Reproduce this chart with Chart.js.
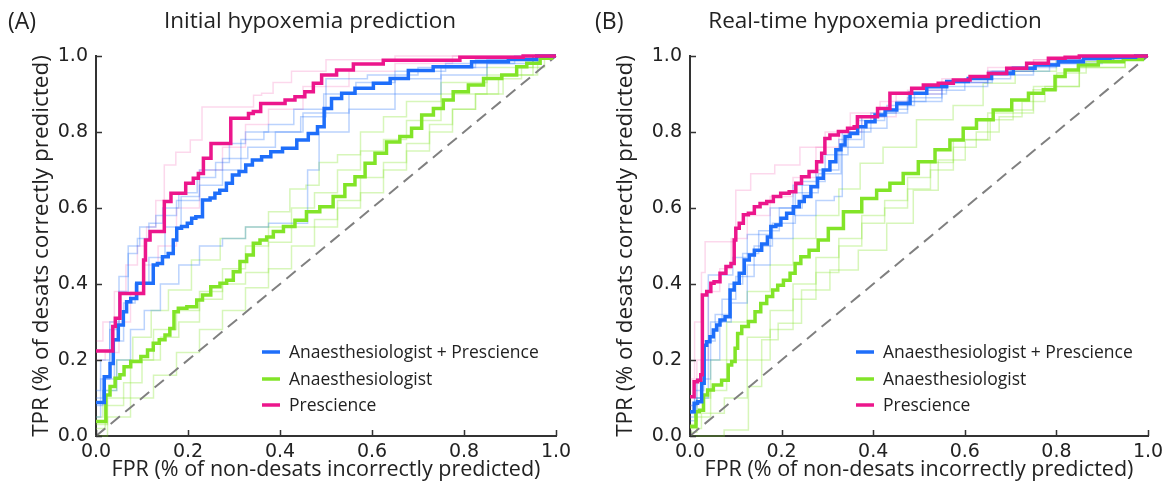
<!DOCTYPE html>
<html><head><meta charset="utf-8">
<script src="https://cdn.jsdelivr.net/npm/chart.js@4.4.1/dist/chart.umd.min.js"></script>
<style>
body{margin:0;background:#fff;width:1175px;height:491px;overflow:hidden;position:relative}
#wa{position:absolute;left:0;top:0;width:620px;height:491px}
#wb{position:absolute;left:575px;top:0;width:600px;height:491px}
</style></head><body>
<div id="wa"><canvas id="ca"></canvas></div>
<div id="wb"><canvas id="cb"></canvas></div>
<script>
// ---------- data (FPR, TPR) ----------
const seriesNames = ['Anaesthesiologist + Prescience', 'Anaesthesiologist', 'Prescience'];
const tickValues = [0, 0.2, 0.4, 0.6, 0.8, 1.0];
const diagonal = [[0,0],[1,1]];

// Panel A: Initial hypoxemia prediction
const aPrescience = [[0,0.224],[0.034,0.224],[0.039,0.288],[0.045,0.31],[0.059,0.375],[0.102,0.375],[0.105,0.463],[0.11,0.516],[0.125,0.538],[0.143,0.538],[0.154,0.617],[0.172,0.639],[0.186,0.639],[0.204,0.665],[0.219,0.678],[0.226,0.691],[0.241,0.731],[0.259,0.77],[0.288,0.77],[0.298,0.836],[0.328,0.836],[0.335,0.849],[0.349,0.854],[0.367,0.875],[0.4,0.875],[0.422,0.884],[0.443,0.893],[0.465,0.906],[0.48,0.928],[0.501,0.95],[0.545,0.963],[0.574,0.979],[0.675,0.989],[0.907,0.997],[0.95,1],[1,1]];
const aBoth = [[0,0.088],[0.016,0.088],[0.02,0.156],[0.027,0.156],[0.034,0.191],[0.041,0.253],[0.056,0.292],[0.063,0.327],[0.07,0.353],[0.081,0.362],[0.096,0.402],[0.121,0.402],[0.128,0.45],[0.139,0.454],[0.15,0.472],[0.164,0.48],[0.172,0.516],[0.179,0.547],[0.193,0.551],[0.204,0.56],[0.212,0.573],[0.222,0.577],[0.241,0.621],[0.255,0.626],[0.262,0.639],[0.276,0.647],[0.291,0.665],[0.302,0.687],[0.32,0.696],[0.331,0.713],[0.349,0.726],[0.371,0.735],[0.389,0.748],[0.422,0.757],[0.451,0.779],[0.472,0.796],[0.491,0.814],[0.501,0.862],[0.523,0.888],[0.545,0.902],[0.581,0.915],[0.625,0.928],[0.654,0.941],[0.704,0.962],[0.762,0.972],[0.871,0.985],[0.922,0.991],[0.994,1],[1,1]];
const aAnaes = [[0,0.038],[0.02,0.038],[0.023,0.108],[0.038,0.13],[0.045,0.152],[0.059,0.161],[0.063,0.182],[0.088,0.196],[0.107,0.209],[0.117,0.226],[0.132,0.244],[0.143,0.253],[0.157,0.266],[0.164,0.283],[0.175,0.327],[0.183,0.336],[0.212,0.34],[0.226,0.358],[0.237,0.371],[0.262,0.393],[0.277,0.402],[0.291,0.41],[0.306,0.432],[0.32,0.459],[0.335,0.476],[0.349,0.507],[0.364,0.516],[0.378,0.524],[0.393,0.538],[0.422,0.551],[0.443,0.568],[0.472,0.59],[0.501,0.603],[0.53,0.63],[0.552,0.661],[0.574,0.682],[0.596,0.718],[0.617,0.744],[0.646,0.774],[0.675,0.788],[0.697,0.81],[0.719,0.845],[0.748,0.862],[0.762,0.884],[0.791,0.906],[0.828,0.924],[0.857,0.941],[0.907,0.95],[0.922,0.972],[0.951,0.981],[0.98,0.994],[1,1]];
// individual (faint) curves, panel A
const aPrescienceInd1 = [[0,0.25],[0.03,0.3],[0.05,0.38],[0.08,0.45],[0.1,0.5],[0.12,0.55],[0.14,0.62],[0.157,0.713],[0.19,0.747],[0.22,0.779],[0.241,0.866],[0.335,0.866],[0.35,0.897],[0.37,0.902],[0.4,0.93],[0.45,0.96],[0.55,0.99],[0.75,1],[1,1]];
const aPrescienceInd2 = [[0,0.2],[0.04,0.22],[0.06,0.3],[0.09,0.38],[0.12,0.45],[0.15,0.5],[0.2,0.6],[0.25,0.7],[0.3,0.76],[0.35,0.82],[0.4,0.86],[0.5,0.92],[0.6,0.96],[0.7,0.98],[0.85,1],[1,1]];
const aBothInd1 = [[0,0.12],[0.02,0.2],[0.04,0.3],[0.06,0.42],[0.08,0.48],[0.1,0.52],[0.13,0.56],[0.16,0.6],[0.2,0.64],[0.24,0.68],[0.28,0.72],[0.3,0.77],[0.35,0.8],[0.4,0.82],[0.46,0.86],[0.53,0.9],[0.6,0.93],[0.7,0.96],[0.82,0.98],[1,1]];
const aBothInd2 = [[0,0.1],[0.03,0.15],[0.05,0.25],[0.07,0.35],[0.1,0.4],[0.13,0.47],[0.17,0.55],[0.2,0.63],[0.25,0.7],[0.3,0.73],[0.36,0.76],[0.42,0.8],[0.47,0.84],[0.53,0.94],[0.65,0.95],[0.75,0.97],[0.9,0.99],[1,1]];
const aBothInd3 = [[0,0.08],[0.03,0.12],[0.06,0.2],[0.09,0.28],[0.12,0.33],[0.16,0.4],[0.2,0.45],[0.25,0.5],[0.3,0.52],[0.35,0.55],[0.4,0.56],[0.45,0.56],[0.47,0.7],[0.5,0.8],[0.6,0.86],[0.7,0.9],[0.8,0.95],[0.9,0.98],[1,1]];
const aBothInd4 = [[0,0.05],[0.02,0.15],[0.04,0.28],[0.06,0.38],[0.08,0.5],[0.11,0.55],[0.15,0.58],[0.2,0.62],[0.25,0.66],[0.3,0.7],[0.33,0.78],[0.4,0.8],[0.5,0.85],[0.6,0.9],[0.7,0.94],[0.8,0.97],[0.9,0.99],[1,1]];
const aAnaesInd1 = [[0,0.05],[0.03,0.12],[0.06,0.2],[0.1,0.26],[0.14,0.33],[0.175,0.384],[0.24,0.463],[0.3,0.52],[0.35,0.55],[0.4,0.59],[0.443,0.65],[0.47,0.66],[0.5,0.72],[0.55,0.74],[0.6,0.8],[0.65,0.84],[0.7,0.88],[0.8,0.93],[0.9,0.97],[1,1]];
const aAnaesInd2 = [[0,0.02],[0.04,0.08],[0.08,0.14],[0.12,0.2],[0.16,0.26],[0.2,0.3],[0.25,0.36],[0.3,0.4],[0.35,0.43],[0.4,0.51],[0.45,0.55],[0.5,0.57],[0.55,0.62],[0.6,0.68],[0.65,0.72],[0.7,0.77],[0.75,0.82],[0.8,0.86],[0.85,0.9],[0.92,0.95],[1,1]];
const aAnaesInd3 = [[0,0],[0.05,0.05],[0.1,0.1],[0.15,0.16],[0.2,0.22],[0.25,0.28],[0.3,0.33],[0.35,0.39],[0.4,0.44],[0.45,0.5],[0.5,0.55],[0.55,0.6],[0.6,0.64],[0.65,0.7],[0.7,0.75],[0.75,0.8],[0.8,0.86],[0.85,0.9],[0.9,0.94],[0.95,0.97],[1,1]];
const aAnaesInd4 = [[0,0.03],[0.05,0.1],[0.1,0.2],[0.15,0.28],[0.2,0.33],[0.25,0.38],[0.3,0.44],[0.35,0.5],[0.4,0.55],[0.45,0.6],[0.5,0.64],[0.55,0.7],[0.6,0.75],[0.65,0.78],[0.7,0.83],[0.8,0.9],[0.9,0.95],[1,1]];

// Panel B: Real-time hypoxemia prediction
const bPrescience = [[0,0.103],[0.007,0.103],[0.011,0.143],[0.022,0.147],[0.025,0.161],[0.029,0.371],[0.044,0.38],[0.047,0.402],[0.058,0.406],[0.073,0.428],[0.084,0.446],[0.095,0.454],[0.098,0.516],[0.102,0.547],[0.113,0.56],[0.12,0.582],[0.135,0.586],[0.146,0.603],[0.16,0.612],[0.175,0.617],[0.189,0.63],[0.207,0.639],[0.226,0.643],[0.236,0.665],[0.251,0.682],[0.269,0.696],[0.284,0.722],[0.291,0.744],[0.298,0.783],[0.313,0.792],[0.335,0.801],[0.353,0.81],[0.364,0.814],[0.367,0.84],[0.397,0.84],[0.422,0.862],[0.451,0.902],[0.473,0.902],[0.495,0.915],[0.524,0.924],[0.56,0.928],[0.59,0.937],[0.633,0.946],[0.67,0.954],[0.713,0.968],[0.757,0.981],[0.808,0.994],[0.83,0.997],[0.87,1],[1,1]];
const bBoth = [[0,0.064],[0.007,0.064],[0.011,0.086],[0.022,0.09],[0.029,0.139],[0.033,0.239],[0.04,0.248],[0.047,0.261],[0.055,0.279],[0.062,0.292],[0.069,0.305],[0.084,0.314],[0.091,0.384],[0.102,0.402],[0.113,0.428],[0.124,0.463],[0.135,0.476],[0.146,0.489],[0.167,0.505],[0.171,0.524],[0.182,0.551],[0.193,0.555],[0.204,0.573],[0.218,0.586],[0.233,0.603],[0.244,0.617],[0.255,0.63],[0.273,0.656],[0.284,0.678],[0.298,0.7],[0.313,0.722],[0.324,0.753],[0.335,0.766],[0.342,0.788],[0.357,0.796],[0.375,0.814],[0.393,0.827],[0.415,0.845],[0.437,0.858],[0.466,0.875],[0.495,0.902],[0.539,0.919],[0.582,0.933],[0.633,0.941],[0.684,0.954],[0.728,0.968],[0.779,0.976],[0.83,0.985],[0.888,0.994],[0.946,0.997],[1,1]];
const bAnaes = [[0,0.025],[0.011,0.025],[0.015,0.064],[0.026,0.068],[0.033,0.108],[0.044,0.121],[0.058,0.134],[0.08,0.147],[0.087,0.187],[0.095,0.196],[0.102,0.231],[0.106,0.27],[0.12,0.288],[0.135,0.301],[0.149,0.327],[0.16,0.349],[0.175,0.367],[0.186,0.384],[0.197,0.397],[0.211,0.41],[0.226,0.428],[0.233,0.454],[0.251,0.472],[0.269,0.489],[0.291,0.516],[0.313,0.546],[0.357,0.59],[0.393,0.625],[0.422,0.647],[0.451,0.665],[0.48,0.691],[0.517,0.722],[0.553,0.753],[0.582,0.779],[0.611,0.81],[0.64,0.832],[0.684,0.858],[0.721,0.884],[0.757,0.902],[0.786,0.911],[0.808,0.946],[0.83,0.963],[0.866,0.976],[0.917,0.985],[0.975,0.991],[1,1]];
const bPrescienceInd1 = [[0,0.15],[0.02,0.3],[0.03,0.43],[0.036,0.511],[0.095,0.511],[0.105,0.647],[0.16,0.69],[0.21,0.713],[0.27,0.76],[0.32,0.8],[0.38,0.85],[0.45,0.88],[0.5,0.91],[0.6,0.94],[0.7,0.97],[0.8,0.99],[0.9,1],[1,1]];
const bPrescienceInd2 = [[0,0.08],[0.03,0.2],[0.05,0.38],[0.08,0.44],[0.1,0.52],[0.15,0.58],[0.2,0.63],[0.25,0.68],[0.3,0.76],[0.35,0.8],[0.4,0.84],[0.5,0.9],[0.6,0.93],[0.7,0.96],[0.8,0.99],[1,1]];
const bBothInd1 = [[0,0.05],[0.02,0.1],[0.03,0.2],[0.05,0.424],[0.087,0.424],[0.1,0.47],[0.15,0.53],[0.2,0.6],[0.25,0.66],[0.3,0.7],[0.35,0.78],[0.4,0.84],[0.45,0.86],[0.5,0.89],[0.6,0.92],[0.7,0.95],[0.8,0.98],[0.9,0.99],[1,1]];
const bBothInd2 = [[0,0.04],[0.03,0.1],[0.05,0.2],[0.08,0.3],[0.1,0.35],[0.15,0.45],[0.2,0.52],[0.25,0.58],[0.3,0.62],[0.33,0.63],[0.335,0.8],[0.4,0.83],[0.45,0.85],[0.5,0.88],[0.6,0.93],[0.7,0.96],[0.8,0.98],[1,1]];
const bBothInd3 = [[0,0.06],[0.02,0.12],[0.04,0.25],[0.07,0.32],[0.1,0.4],[0.13,0.48],[0.17,0.54],[0.22,0.6],[0.27,0.67],[0.32,0.74],[0.37,0.8],[0.42,0.85],[0.48,0.88],[0.55,0.91],[0.65,0.94],[0.75,0.97],[0.85,0.99],[1,1]];
const bBothInd4 = [[0,0.08],[0.03,0.15],[0.06,0.3],[0.08,0.36],[0.12,0.42],[0.16,0.5],[0.2,0.56],[0.26,0.64],[0.3,0.69],[0.36,0.76],[0.4,0.81],[0.46,0.87],[0.52,0.9],[0.6,0.93],[0.72,0.96],[0.85,0.99],[1,1]];
const bAnaesInd1 = [[0,0],[0.04,0],[0.109,0.016],[0.146,0.13],[0.167,0.253],[0.218,0.297],[0.269,0.384],[0.342,0.437],[0.393,0.489],[0.466,0.56],[0.509,0.647],[0.575,0.726],[0.627,0.779],[0.684,0.832],[0.727,0.858],[0.771,0.911],[0.83,0.955],[0.9,0.985],[1,1]];
const bAnaesInd2 = [[0,0.01],[0.03,0.05],[0.06,0.12],[0.1,0.2],[0.15,0.26],[0.2,0.33],[0.25,0.4],[0.3,0.47],[0.35,0.52],[0.4,0.56],[0.45,0.6],[0.5,0.65],[0.55,0.7],[0.6,0.76],[0.65,0.8],[0.7,0.84],[0.75,0.88],[0.8,0.92],[0.9,0.97],[1,1]];
const bAnaesInd3 = [[0,0.03],[0.03,0.1],[0.06,0.2],[0.1,0.3],[0.15,0.38],[0.2,0.45],[0.25,0.52],[0.3,0.58],[0.35,0.65],[0.393,0.718],[0.45,0.76],[0.539,0.832],[0.61,0.87],[0.67,0.928],[0.75,0.96],[0.85,0.985],[1,1]];
const bAnaesInd4 = [[0,0.02],[0.05,0.06],[0.1,0.1],[0.15,0.2],[0.2,0.28],[0.25,0.36],[0.3,0.43],[0.35,0.5],[0.4,0.58],[0.45,0.62],[0.5,0.68],[0.55,0.72],[0.6,0.78],[0.7,0.85],[0.8,0.92],[0.9,0.97],[1,1]];

// ---------- styling ----------
const BLUE = 'rgb(30,110,250)', GREEN = 'rgb(130,228,40)', PINK = 'rgb(236,22,140)';
const BLUE_F = 'rgba(30,110,250,0.3)', GREEN_F = 'rgba(130,228,40,0.32)', PINK_F = 'rgba(236,22,140,0.17)';
const TXT = '#222';
const SANS = "'Open Sans', 'Noto Sans', sans-serif";

function ds(label, pts, color, width, order, extra) {
  return Object.assign({
    label, data: pts.map(p => ({x: p[0], y: p[1]})),
    borderColor: color, backgroundColor: color, borderWidth: width,
    pointRadius: 0, pointHoverRadius: 0, fill: false, tension: 0,
    stepped: 'middle', order, clip: 6
  }, extra || {});
}

function panelDatasets(main, faint) {
  const list = [];
  faint.blue.forEach(p => list.push(ds('', p, BLUE_F, 1.5, 10)));
  faint.green.forEach(p => list.push(ds('', p, GREEN_F, 1.5, 10)));
  faint.pink.forEach(p => list.push(ds('', p, PINK_F, 1.5, 10)));
  list.push(ds('diag', diagonal, 'rgb(128,128,128)', 2, 5, {borderDash: [12, 7], stepped: false}));
  list.push(ds(seriesNames[1], main.green, GREEN, 3.5, 3));
  list.push(ds(seriesNames[0], main.blue, BLUE, 3.5, 2));
  list.push(ds(seriesNames[2], main.pink, PINK, 3.5, 1));
  return list;
}

const decor = {
  id: 'decor',
  afterDraw(chart, args, opts) {
    const {ctx, chartArea: a, scales: {x, y}} = chart;
    ctx.save();
    // inward tick marks
    ctx.strokeStyle = '#333'; ctx.lineWidth = 1.5; ctx.beginPath();
    x.ticks.forEach(t => { const px = Math.round(x.getPixelForValue(t.value)) + 0.5; ctx.moveTo(px, a.bottom); ctx.lineTo(px, a.bottom - 6); });
    y.ticks.forEach(t => { const py = Math.round(y.getPixelForValue(t.value)) + 0.5; ctx.moveTo(a.left, py); ctx.lineTo(a.left + 6, py); });
    ctx.stroke();
    // panel letter and title
    ctx.fillStyle = TXT; ctx.textBaseline = 'middle';
    ctx.font = '23px ' + SANS; ctx.textAlign = 'left';
    ctx.fillText(opts.letter, opts.letterX, 22);
    ctx.font = '22.5px ' + SANS; ctx.textAlign = 'center';
    ctx.fillText(opts.title, opts.titleX, 22);
    // legend inside the plot
    const rows = [352, 379, 405];
    ctx.font = '17.5px ' + SANS; ctx.textAlign = 'left';
    seriesNames.forEach((name, i) => {
      const d = chart.data.datasets.find(s => s.label === name);
      const lx = a.left + 166, ly = rows[i];
      ctx.strokeStyle = d.borderColor; ctx.lineWidth = 3.5; ctx.beginPath();
      ctx.moveTo(lx, ly); ctx.lineTo(lx + 18, ly); ctx.stroke();
      ctx.fillStyle = TXT; ctx.fillText(name, a.left + 193, ly + 1);
    });
    ctx.restore();
  }
};

function makeChart(id, title, datasets, cfg) {
  return new Chart(document.getElementById(id), {
    type: 'line',
    data: {datasets},
    plugins: [decor],
    options: {
      responsive: true, maintainAspectRatio: false, animation: false,
      events: [],
      layout: {padding: {left: 0, right: cfg.rightPad, top: 56, bottom: 0}},
      plugins: {
        legend: {display: false}, tooltip: {enabled: false}, title: {display: false},
        decor: {letter: cfg.letter, letterX: cfg.letterX, title: title, titleX: cfg.titleX}
      },
      scales: {
        x: {
          type: 'linear', min: 0, max: 1,
          afterBuildTicks: s => { s.ticks = tickValues.map(v => ({value: v})); },
          ticks: {callback: v => v.toFixed(1), color: TXT, font: {family: 'DejaVu Sans', size: 19}, padding: 5, maxRotation: 0},
          grid: {display: true, drawOnChartArea: false, drawTicks: false},
          border: {display: true, color: '#333', width: 2},
          title: {display: true, text: 'FPR (% of non-desats incorrectly predicted)', color: TXT,
                  font: {family: SANS, size: 21.5}, padding: {top: 0, bottom: 8}},
          afterFit: s => { s.height = 55; }
        },
        y: {
          type: 'linear', min: 0, max: 1,
          afterBuildTicks: s => { s.ticks = tickValues.map(v => ({value: v})); },
          ticks: {callback: v => v.toFixed(1), color: TXT, font: {family: 'DejaVu Sans', size: 19}, padding: 8},
          grid: {display: true, drawOnChartArea: false, drawTicks: false},
          border: {display: true, color: '#333', width: 2},
          title: {display: true, text: 'TPR (% of desats correctly predicted)', color: TXT,
                  font: {family: SANS, size: 22.5}, padding: {top: cfg.yTitlePad, bottom: 0}},
          afterFit: s => { s.width = cfg.yWidth; }
        }
      }
    }
  });
}

makeChart('ca', 'Initial hypoxemia prediction',
  panelDatasets({blue: aBoth, green: aAnaes, pink: aPrescience},
    {blue: [aBothInd1, aBothInd2, aBothInd3, aBothInd4], green: [aAnaesInd1, aAnaesInd2, aAnaesInd3, aAnaesInd4], pink: [aPrescienceInd1, aPrescienceInd2]}),
  {rightPad: 64, yWidth: 96, yTitlePad: 28, letter: '(A)', letterX: 8, titleX: 310});

makeChart('cb', 'Real-time hypoxemia prediction',
  panelDatasets({blue: bBoth, green: bAnaes, pink: bPrescience},
    {blue: [bBothInd1, bBothInd2, bBothInd3, bBothInd4], green: [bAnaesInd1, bAnaesInd2, bAnaesInd3, bAnaesInd4], pink: [bPrescienceInd1, bPrescienceInd2]}),
  {rightPad: 27, yWidth: 115, yTitlePad: 37, letter: '(B)', letterX: 20, titleX: 300});
</script>
</body></html>
